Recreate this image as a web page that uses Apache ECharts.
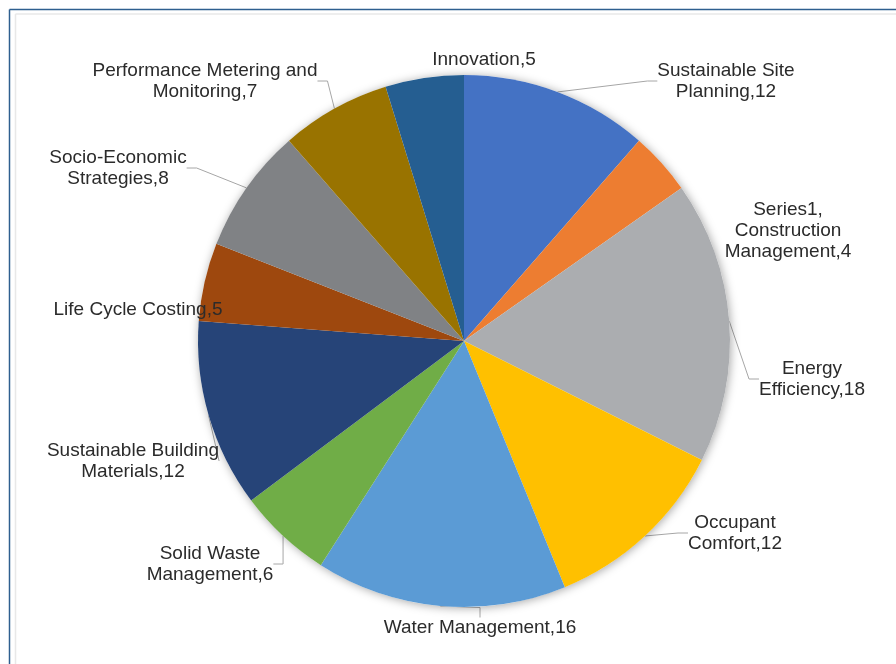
<!DOCTYPE html>
<html>
<head>
<meta charset="utf-8">
<script src="https://cdn.jsdelivr.net/npm/echarts@6/dist/echarts.min.js"></script>
<style>
html,body{margin:0;padding:0;background:#fff;}
#chart{width:896px;height:664px;}
</style>
</head>
<body>
<div id="chart"></div>
<script>
var categories = [
  'Sustainable Site Planning',
  'Construction Management',
  'Energy Efficiency',
  'Occupant Comfort',
  'Water Management',
  'Solid Waste Management',
  'Sustainable Building Materials',
  'Life Cycle Costing',
  'Socio-Economic Strategies',
  'Performance Metering and Monitoring',
  'Innovation'
];
var values = [12, 4, 18, 12, 16, 6, 12, 5, 8, 7, 5];
var labelLines = [
  ['Sustainable Site', 'Planning,'],
  ['Series1,', 'Construction', 'Management,'],
  ['Energy', 'Efficiency,'],
  ['Occupant', 'Comfort,'],
  ['Water Management,'],
  ['Solid Waste', 'Management,'],
  ['Sustainable Building', 'Materials,'],
  ['Life Cycle Costing,'],
  ['Socio-Economic', 'Strategies,'],
  ['Performance Metering and', 'Monitoring,'],
  ['Innovation,']
];
var colors = ['#4472C4','#ED7D31','#ABADB0','#FFC000','#5B9BD5','#70AD47','#264478','#9E480E','#808285','#997300','#255E91'];

// label anchor positions (layout styling)
var labelPos = [
  [726, 81], [788, 231], [812, 379], [735, 533], [480, 628],
  [210, 564], [133, 461], [138, 310], [118, 168], [205, 81], [484, 60]
];
var showLine = [true, false, true, true, true, true, true, false, true, true, false];

var data = categories.map(function (c, i) {
  return {
    name: c,
    value: values[i],
    itemStyle: { color: colors[i] },
    labelLine: { show: showLine[i] }
  };
});

var chart = echarts.init(document.getElementById('chart'));
chart.setOption({
  animation: false,
  graphic: [
    { type: 'line', shape: { x1: 9.5, y1: 9.5, x2: 896, y2: 9.5 }, style: { stroke: '#2E5F8F', lineWidth: 1.5 }, silent: true },
    { type: 'line', shape: { x1: 9.5, y1: 9.5, x2: 9.5, y2: 664 }, style: { stroke: '#2E5F8F', lineWidth: 1.5 }, silent: true },
    { type: 'line', shape: { x1: 15.5, y1: 14, x2: 896, y2: 14 }, style: { stroke: '#E8E8E8', lineWidth: 1.5 }, silent: true },
    { type: 'line', shape: { x1: 15.5, y1: 14, x2: 15.5, y2: 664 }, style: { stroke: '#E8E8E8', lineWidth: 1.5 }, silent: true }
  ],
  series: [
    {
      type: 'pie',
      silent: true,
      center: [464, 341],
      radius: 266,
      label: { show: false },
      labelLine: { show: false },
      itemStyle: { color: '#fff', shadowBlur: 10, shadowColor: 'rgba(0,0,0,0.35)', shadowOffsetX: 1, shadowOffsetY: 1 },
      data: [{ value: 1, name: '' }]
    },
    {
      type: 'pie',
      center: [464, 341],
      radius: 266,
      startAngle: 90,
      clockwise: true,
      avoidLabelOverlap: false,
      itemStyle: { borderWidth: 0 },
      label: {
        show: true,
        position: 'outside',
        fontFamily: '"Liberation Sans", Arial, sans-serif',
        fontSize: 19,
        lineHeight: 21,
        color: '#2b2b2b',
        align: 'center',
        formatter: function (p) {
          var l = labelLines[p.dataIndex].slice();
          l[l.length - 1] = l[l.length - 1] + p.value;
          return l.join('\n');
        }
      },
      labelLine: {
        show: true,
        length: 10,
        length2: 10,
        lineStyle: { color: '#A6A6A6', width: 1 }
      },
      labelLayout: function (params) {
        var p = labelPos[params.dataIndex];
        return { x: p[0], y: p[1], align: 'center', verticalAlign: 'middle' };
      },
      data: data
    }
  ]
});
</script>
</body>
</html>
